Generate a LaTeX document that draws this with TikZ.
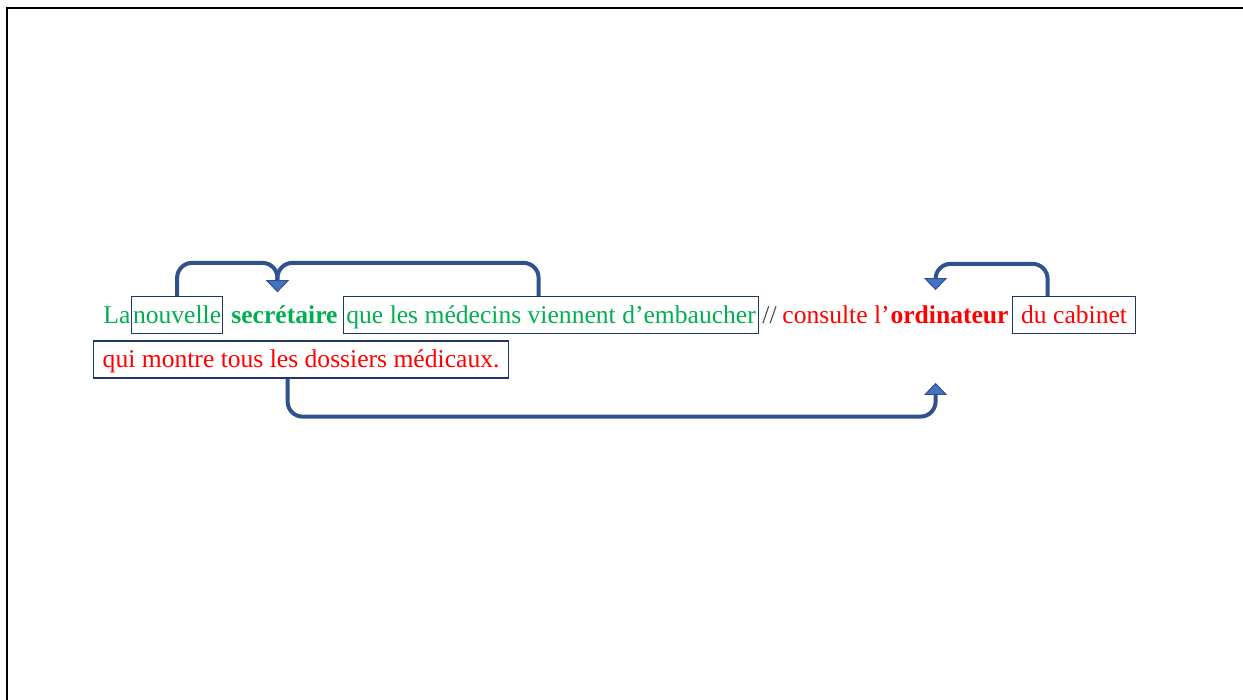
\documentclass[tikz,border=0pt]{standalone}
\usepackage{fontspec}
\setmainfont{Liberation Serif}
\usetikzlibrary{arrows.meta, positioning}
\definecolor{colGreen}{RGB}{0,176,80}
\definecolor{colRed}{RGB}{255,0,0}
\definecolor{colSep}{RGB}{64,64,64}
\definecolor{colBox}{RGB}{31,56,100}
\definecolor{colLink}{RGB}{47,82,143}
\definecolor{colLinkFill}{RGB}{68,114,196}

\begin{document}
\begin{tikzpicture}[
  x=0.5pt, y=-0.5pt,
  word/.style={anchor=west, inner xsep=0pt, inner ysep=3pt, text height=10.5pt, text depth=2pt,
               font=\fontsize{12.8}{15}\selectfont},
  wbox/.style={word, draw=colBox, line width=0.6pt, align=center},
  link/.style={colLink, line width=2pt, rounded corners=7.5pt,
               -{Triangle[width=11.5pt, length=6pt, fill=colLinkFill, line width=0.5pt]}},
]
\useasboundingbox (0,0) rectangle (1243,700);
% Frame
\draw[line width=1pt] (7,700) -- (7,8) -- (1243,8);

% First line
\node[word, text=colGreen] (la) at (103,315) {La};
\node[wbox, text=colGreen, minimum width=45.5pt] (nouv) at (131,315) {nouvelle};
\node[word, text=colGreen] (secr) at (231,315) {\bfseries secrétaire};
\node[wbox, text=colGreen, minimum width=207.5pt] (que) at (343,315) {que les médecins viennent d’embaucher};
\node[word, text=colSep] (sep) at (762,315) {//};
\node[word, text=colRed] (cons) at (782,315) {consulte l’};
\node[word, text=colRed, right=0pt of cons] (ordin) {\bfseries ordinateur};
\node[wbox, text=colRed, minimum width=61.5pt] (cab) at (1012,315) {du cabinet};

% Second line
\node[wbox, text=colRed, minimum width=207.5pt] (qui) at (93,359.5) {qui montre tous les dossiers médicaux.};

% Links
\coordinate (secr-in) at ([xshift=-3.5pt, yshift=2pt]secr.north);
\coordinate (ordin-top) at ([xshift=-7pt, yshift=3pt]ordin.north);
\coordinate (ordin-bot) at ([xshift=-7pt, yshift=-24.5pt]ordin.south);

\draw[link] (nouv.north) -- ++(0,-33) -| (secr-in);
\draw[link] ([xshift=-6.25pt]que.north) -- ++(0,-33) -| (secr-in);
\draw[link] ([xshift=-13.25pt]cab.north) -- ++(0,-32) -| (ordin-top);
\draw[link] ([xshift=-6.75pt]qui.south) -- ++(0,38) -| (ordin-bot);

\end{tikzpicture}
\end{document}
